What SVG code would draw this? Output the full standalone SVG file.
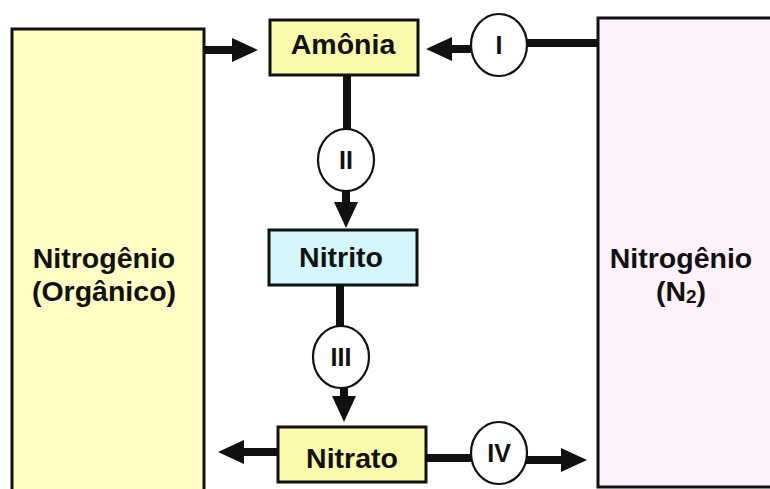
<svg xmlns="http://www.w3.org/2000/svg" width="770" height="489" viewBox="0 0 770 489">
<style>
.box{stroke:#111;stroke-width:3}
.t{font-family:"Liberation Sans",Arial,sans-serif;font-weight:bold;font-size:28.5px;fill:#111;text-anchor:middle}
.rn{font-family:"Liberation Sans",Arial,sans-serif;font-weight:bold;font-size:25px;fill:#111;text-anchor:middle}
.c{fill:#fff;stroke:#111;stroke-width:2.2}
.ln{stroke:#111;stroke-width:8;fill:none}
</style>
<defs>
<marker id="ah" viewBox="0 0 26 24" refX="2" refY="12" markerWidth="26" markerHeight="24" markerUnits="userSpaceOnUse" orient="auto">
<path d="M0,0 L26,12 L0,24 z" fill="#111"/>
</marker>
</defs>
<rect width="770" height="489" fill="#fff"/>
<g id="connectors">
<line class="ln" x1="204" y1="50" x2="234" y2="50" marker-end="url(#ah)"/>
<line class="ln" x1="598" y1="43" x2="526" y2="43"/>
<line class="ln" x1="472" y1="49" x2="450" y2="49" marker-end="url(#ah)"/>
<line class="ln" x1="347" y1="75" x2="347" y2="130"/>
<line class="ln" x1="346" y1="190" x2="346" y2="204" marker-end="url(#ah)"/>
<line class="ln" x1="340" y1="285" x2="340" y2="328"/>
<line class="ln" x1="344" y1="386" x2="344" y2="398" marker-end="url(#ah)"/>
<line class="ln" x1="278" y1="452" x2="242" y2="452" marker-end="url(#ah)"/>
<line class="ln" x1="426" y1="458" x2="472" y2="458"/>
<line class="ln" x1="526" y1="460" x2="563" y2="460" marker-end="url(#ah)"/>
</g>
<g id="organico">
<rect class="box" x="12" y="29" width="192" height="480" fill="#fffcc4"/>
<text class="t" x="104" y="268">Nitrogênio</text>
<text class="t" x="104" y="301">(Orgânico)</text>
</g>
<g id="n2">
<rect class="box" x="598" y="18" width="200" height="469" fill="#fdf1fb"/>
<text class="t" x="681" y="268">Nitrogênio</text>
<text class="t" x="681" y="301">(N<tspan font-size="19" dy="2">2</tspan><tspan dy="-2">)</tspan></text>
</g>
<g id="amonia">
<rect class="box" x="270" y="20" width="148" height="55" fill="#fbf9aa"/>
<text class="t" x="343" y="54">Amônia</text>
</g>
<g id="nitrito">
<rect class="box" x="269" y="230" width="148" height="55" fill="#d4f6fb"/>
<text class="t" x="341" y="267">Nitrito</text>
</g>
<g id="nitrato">
<rect class="box" x="278" y="427" width="148" height="55" fill="#fbf9aa"/>
<text class="t" x="352" y="468">Nitrato</text>
</g>
<g id="step1">
<ellipse class="c" cx="499" cy="45" rx="28" ry="31"/>
<text class="rn" x="499" y="54">I</text>
</g>
<g id="step2">
<ellipse class="c" cx="346" cy="160" rx="28" ry="31"/>
<text class="rn" x="346" y="169">II</text>
</g>
<g id="step3">
<ellipse class="c" cx="341" cy="357" rx="28" ry="31"/>
<text class="rn" x="341" y="366">III</text>
</g>
<g id="step4">
<ellipse class="c" cx="499" cy="453" rx="28" ry="31"/>
<text class="rn" x="499" y="462">IV</text>
</g>
</svg>
